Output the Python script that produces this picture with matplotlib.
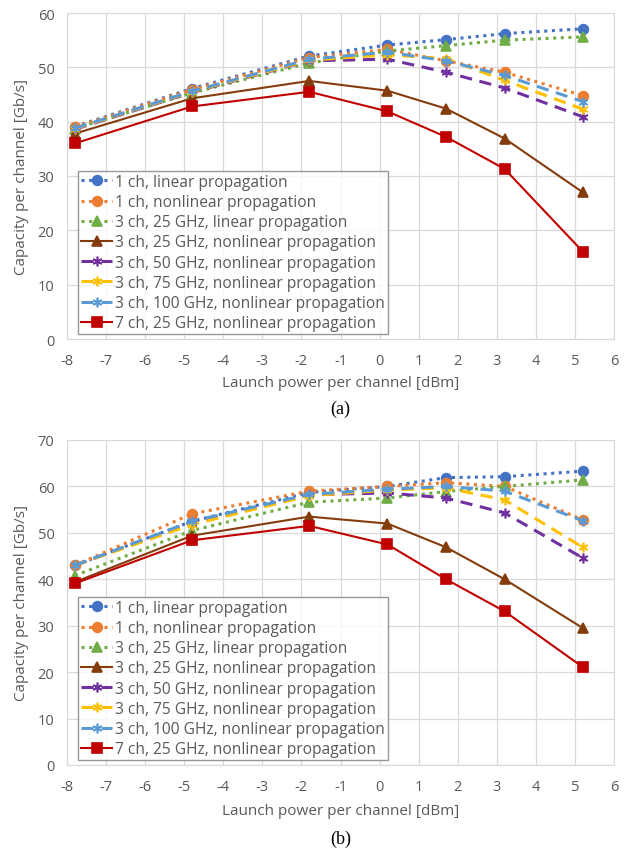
import numpy as np
import matplotlib
matplotlib.use("Agg")
import matplotlib.pyplot as plt

plt.rcParams['font.family'] = ['Open Sans', 'DejaVu Sans']
plt.rcParams['axes.unicode_minus'] = False

# Potencia de lanzamiento [dBm]
power = [-7.8, -4.8, -1.8, 0.2, 1.7, 3.2, 5.2]

labels = ["1 ch, linear propagation",
          "1 ch, nonlinear propagation",
          "3 ch, 25 GHz, linear propagation",
          "3 ch, 25 GHz, nonlinear propagation",
          "3 ch, 50 GHz, nonlinear propagation",
          "3 ch, 75 GHz, nonlinear propagation",
          "3 ch, 100 GHz, nonlinear propagation",
          "7 ch, 25 GHz, nonlinear propagation"]

# (a)
cap_a_1lin = [39.1, 46.1, 52.1, 54.1, 55.1, 56.2, 57.1]
cap_a_1nl = [39.0, 45.9, 51.8, 53.3, 51.2, 49.1, 44.8]
cap_a_25lin = [38.7, 45.3, 50.8, 53.0, 54.0, 55.0, 55.6]
cap_a_25nl = [37.8, 44.3, 47.5, 45.7, 42.4, 36.9, 27.0]
cap_a_50nl = [38.6, 45.4, 51.2, 51.5, 49.1, 46.2, 40.9]
cap_a_75nl = [38.7, 45.5, 51.3, 52.3, 51.6, 47.6, 42.3]
cap_a_100nl = [38.8, 45.6, 51.5, 52.8, 51.2, 48.5, 43.7]
cap_a_7nl = [36.0, 42.8, 45.5, 41.9, 37.2, 31.3, 16.1]

# (b)
cap_b_1lin = [43.0, 52.5, 58.7, 60.0, 61.9, 62.1, 63.3]
cap_b_1nl = [43.0, 54.1, 59.0, 60.0, 60.8, 60.0, 52.8]
cap_b_25lin = [40.8, 50.5, 56.6, 57.5, 58.9, 60.0, 61.4]
cap_b_25nl = [39.4, 49.4, 53.5, 52.0, 46.9, 40.0, 29.5]
cap_b_50nl = [43.0, 52.2, 58.2, 58.6, 57.5, 54.3, 44.6]
cap_b_75nl = [43.0, 51.8, 58.0, 59.2, 59.7, 57.1, 46.9]
cap_b_100nl = [43.0, 52.5, 58.3, 59.4, 60.0, 59.0, 52.6]
cap_b_7nl = [39.1, 48.4, 51.5, 47.5, 40.0, 33.1, 21.1]

data_a = [cap_a_1lin, cap_a_1nl, cap_a_25lin, cap_a_25nl,
          cap_a_50nl, cap_a_75nl, cap_a_100nl, cap_a_7nl]
data_b = [cap_b_1lin, cap_b_1nl, cap_b_25lin, cap_b_25nl,
          cap_b_50nl, cap_b_75nl, cap_b_100nl, cap_b_7nl]

colors = ['#4472C4', '#ED7D31', '#70AD47', '#843C0C',
          '#7030A0', '#FFC000', '#5B9BD5', '#C00000']
styles = [(0, (1, 1.5)), (0, (1, 1.5)), (0, (1, 1.5)), '-',
          (0, (4, 2.5)), (0, (4, 2.5)), (0, (4, 2.5)), '-']
star = (6, 2, 0)
markers = ['o', 'o', '^', '^', star, star, star, 's']
widths = [2.2, 2.2, 2.2, 1.5, 2.2, 2.2, 2.2, 1.5]

gray = '#595959'
W, H = 627, 853
fig = plt.figure(figsize=(W / 100, H / 100), dpi=100)


def panel(box, data, ymax, legend_box, tag, xl_y, tag_y):
    ax = fig.add_axes(box)
    for y, c, ls, m, lw, lab in zip(data, colors, styles, markers, widths, labels):
        ax.plot(power, y, color=c, linestyle=ls, linewidth=lw, marker=m,
                markersize=7, markeredgewidth=1.2, label=lab)
    ax.set_xlim(-8, 6)
    ax.set_ylim(0, ymax)
    ax.set_xticks(np.arange(-8, 7, 1))
    ax.set_yticks(np.arange(0, ymax + 1, 10))
    ax.grid(True, color='#d9d9d9', linewidth=0.9)
    ax.set_axisbelow(True)
    for s in ax.spines.values():
        s.set_color('#d9d9d9')
    ax.tick_params(length=0, labelsize=10.5, colors=gray)
    ax.tick_params(axis='x', pad=10)
    ax.tick_params(axis='y', pad=9)
    ax.set_ylabel('Capacity per channel [Gb/s]', fontsize=11, color=gray, labelpad=6)
    fig.text(box[0] + box[2] / 2, xl_y, 'Launch power per channel [dBm]',
             ha='center', va='center', fontsize=11, color=gray)
    fig.text(box[0] + box[2] / 2, tag_y, tag, ha='center', va='center',
             fontsize=13, family='Liberation Serif', color='black')
    leg = ax.legend(loc='lower left', bbox_to_anchor=legend_box, fontsize=11.2,
                    frameon=True, fancybox=False, handlelength=2.0,
                    handletextpad=0.15, labelspacing=0.27, borderpad=0.2,
                    borderaxespad=0.3, labelcolor=gray)
    leg.get_frame().set_edgecolor('#7f7f7f')
    leg.get_frame().set_linewidth(1.0)
    return ax


panel([67 / W, 1 - 340 / H, 547 / W, 326 / H], data_a, 60,
      (0.012, 0.0), '(a)', 1 - 384 / H, 1 - 409 / H)
panel([67 / W, 1 - 766 / H, 547 / W, 325 / H], data_b, 70,
      (0.012, 0.0), '(b)', 1 - 812 / H, 1 - 839 / H)

fig.savefig('out.png', dpi=100)
